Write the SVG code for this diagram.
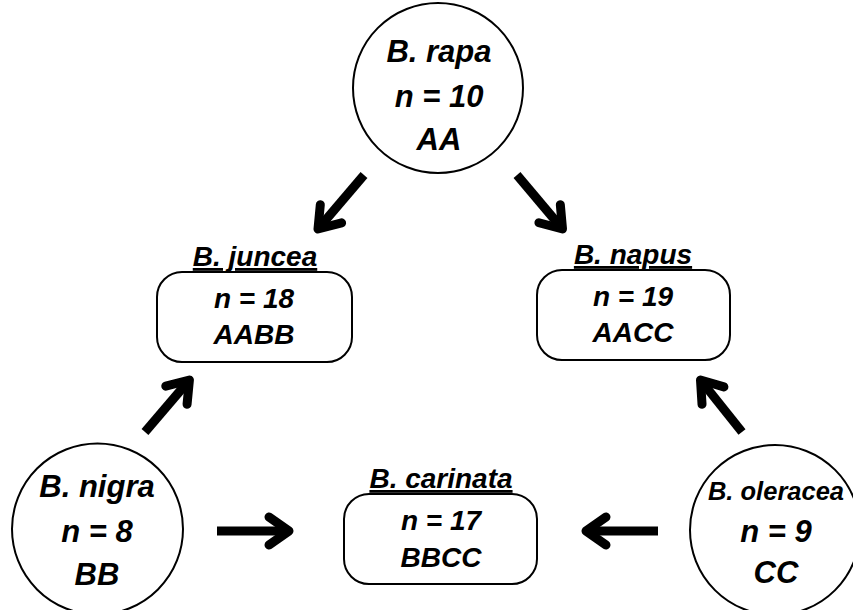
<svg xmlns="http://www.w3.org/2000/svg" width="853" height="610" viewBox="0 0 853 610">
<defs>
<style>
.node{fill:#fff;stroke:#000;stroke-width:2}
text{font-family:"Liberation Sans",Arial,sans-serif;font-weight:bold;font-style:italic;fill:#000;text-anchor:middle}
.c{font-size:31px}
.b{font-size:28px}
.lbl{font-size:28px;text-decoration:underline}
.shaft{stroke:#000;stroke-width:9;fill:none;stroke-linecap:butt}
</style>
<marker id="ah" markerWidth="1" markerHeight="1" refX="0" refY="0" orient="auto" markerUnits="userSpaceOnUse" overflow="visible">
<path d="M-20,-14 L0,0 L-20,14" fill="none" stroke="#000" stroke-width="9" stroke-linecap="round" stroke-linejoin="round"/>
</marker>
</defs>
<rect width="853" height="610" fill="#fff"/>
<g id="connectors">
<line class="shaft" x1="364" y1="175" x2="318" y2="229" marker-end="url(#ah)"/>
<line class="shaft" x1="517" y1="175" x2="562.5" y2="229" marker-end="url(#ah)"/>
<line class="shaft" x1="145" y1="432" x2="189.4" y2="380" marker-end="url(#ah)"/>
<line class="shaft" x1="217" y1="531" x2="289" y2="531" marker-end="url(#ah)"/>
<line class="shaft" x1="658" y1="531" x2="586" y2="531" marker-end="url(#ah)"/>
<line class="shaft" x1="742" y1="432" x2="700.5" y2="380" marker-end="url(#ah)"/>
</g>
<g id="rapa">
<circle class="node" cx="438" cy="88" r="85"/>
<text class="c" x="439" y="62">B. rapa</text>
<text class="c" x="439" y="107">n = 10</text>
<text class="c" x="439" y="150">AA</text>
</g>
<g id="juncea">
<text class="lbl" x="255" y="266">B. juncea</text>
<rect class="node" x="157" y="272" width="195" height="90" rx="25"/>
<text class="b" x="254" y="308">n = 18</text>
<text class="b" x="254" y="344">AABB</text>
</g>
<g id="napus">
<text class="lbl" x="633" y="264">B. napus</text>
<rect class="node" x="537" y="270" width="193" height="90" rx="25"/>
<text class="b" x="633" y="306">n = 19</text>
<text class="b" x="633" y="342">AACC</text>
</g>
<g id="carinata">
<text class="lbl" x="441" y="488">B. carinata</text>
<rect class="node" x="344" y="494" width="193" height="90" rx="25"/>
<text class="b" x="441" y="530">n = 17</text>
<text class="b" x="441" y="567">BBCC</text>
</g>
<g id="nigra">
<circle class="node" cx="97.5" cy="529" r="85.5"/>
<text class="c" x="97" y="497">B. nigra</text>
<text class="c" x="97" y="542">n = 8</text>
<text class="c" x="97" y="585">BB</text>
</g>
<g id="oleracea">
<circle class="node" cx="775" cy="530" r="85"/>
<text class="c" x="776" y="500" style="font-size:25.5px">B. oleracea</text>
<text class="c" x="776" y="542">n = 9</text>
<text class="c" x="776" y="583">CC</text>
</g>
</svg>
